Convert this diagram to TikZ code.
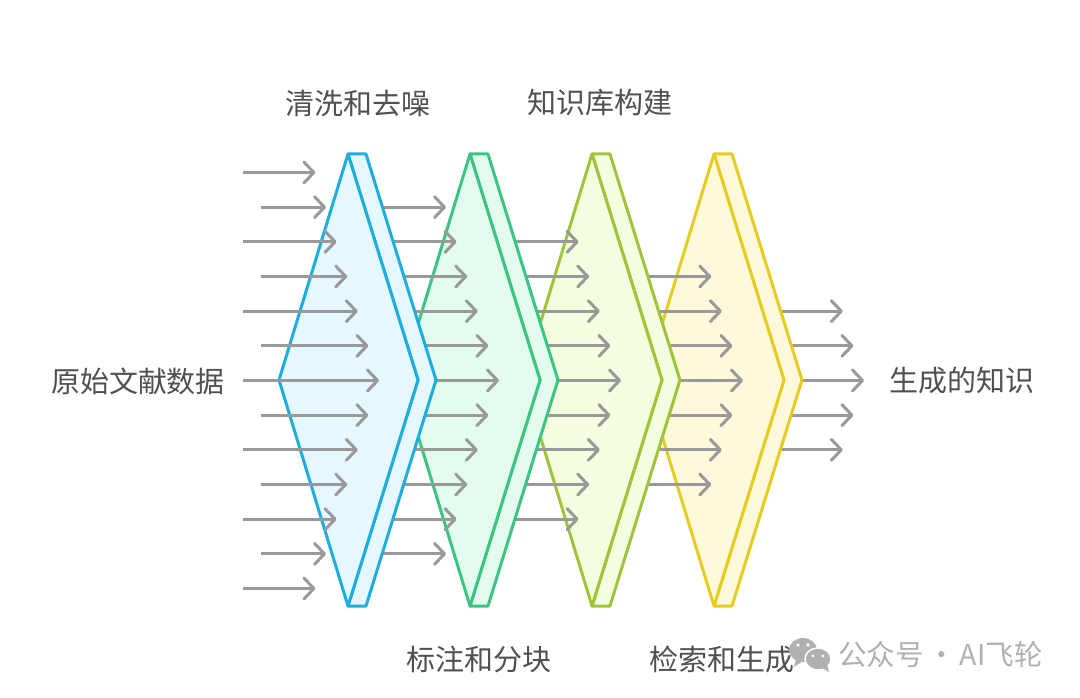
\documentclass[tikz,border=0pt]{standalone}
\usepackage{xcolor}
\usepackage{fontspec}
\setmainfont{Noto Sans CJK SC}
\usetikzlibrary{
    positioning,
    arrows.meta
}

\definecolor{cleanline}{HTML}{1FADDC}
\definecolor{cleanfill}{HTML}{E6F8FF}
\definecolor{markline}{HTML}{3CC481}
\definecolor{markfill}{HTML}{E3FCEF}
\definecolor{baseline}{HTML}{9FC43A}
\definecolor{basefill}{HTML}{F3FFDE}
\definecolor{genline}{HTML}{E4CD20}
\definecolor{genfill}{HTML}{FFF9DC}
\definecolor{labeltext}{HTML}{505050}
\definecolor{flowgray}{HTML}{999999}
\definecolor{marktext}{HTML}{B0B0B0}

\begin{document}
\begin{tikzpicture}[
    x=1pt,
    y=-1pt,
    panel/.style={
        line width=3pt,
        line join=round
    },
    flow/.style={
        -{Straight Barb[length=10pt,width=21pt,round]},
        line width=3pt,
        draw=flowgray
    },
    label/.style={
        text=labeltext,
        font=\fontsize{29}{34}\selectfont,
        inner sep=0pt
    },
    wmark/.style={
        text=marktext,
        font=\fontsize{28.6}{34}\selectfont,
        inner sep=0pt
    }
]

\useasboundingbox (0,0) rectangle (1080,698);

% stages back to front, each one hides the start of the arrows leaving it
\foreach \stage/\px/\linec/\fillc/\tip/\half in {
    gen/714/genline/genfill/864/2,
    base/592/baseline/basefill/743/3,
    mark/470/markline/markfill/621/4,
    clean/348/cleanline/cleanfill/499/5%
}{
    \foreach \i in {-\half,...,\half}{
        \pgfmathsetmacro\tipx{\tip-abs(\i)*10.6}
        \coordinate (\stage from\i) at (\tipx-90,380.5+\i*34.67);
        \coordinate (\stage to\i) at (\tipx,380.5+\i*34.67);
        \draw[flow] (\stage from\i) -- (\stage to\i);
    }
    \draw[panel, draw=\linec, fill=\fillc] (\px,154) -- (\px+18,154) -- (\px+88,380)
        -- (\px+18,606) -- (\px,606) -- (\px+70,380) -- cycle;
    \draw[panel, draw=\linec, fill=\fillc] (\px,154) -- (\px+70,380) -- (\px,606)
        -- (\px-69,380) -- cycle;
}

% incoming arrows
\foreach \i in {-6,...,6}{
    \pgfmathsetmacro\tipx{379-abs(\i)*10.6}
    \pgfmathsetmacro\startx{iseven(\i) ? 243 : 261}
    \coordinate (in from\i) at (\startx,380.5+\i*34.67);
    \coordinate (in to\i) at (\tipx,380.5+\i*34.67);
    \draw[flow] (in from\i) -- (in to\i);
}

\node[label] (source) at (138,381) {原始文献数据};
\node[label] (result) at (962,381) {生成的知识};
\node[label] (clean) at (358,103) {清洗和去噪};
\node[label] (base) at (600,103) {知识库构建};
\node[label] (mark) at (479,659) {标注和分块};
\node[label] (gen) at (722,659) {检索和生成};

% watermark
\fill[marktext] (803,650) ellipse [x radius=14, y radius=12];
\fill[marktext] (796,659) -- (794,667) -- (803,661) -- cycle;
\fill[marktext, draw=white, line width=1.5pt] (818,659) ellipse [x radius=13, y radius=11];
\fill[marktext] (822,668) -- (829,672) -- (827,664) -- cycle;
\fill[white] (798,645) circle (1.8) (808,645) circle (1.8)
    (813,656) circle (1.6) (823,656) circle (1.6);
\node[wmark, anchor=west] (account) at (838,655) {公众号\hspace{-0.1em} · \hspace{-0.1em}AI飞轮};

\end{tikzpicture}
\end{document}
